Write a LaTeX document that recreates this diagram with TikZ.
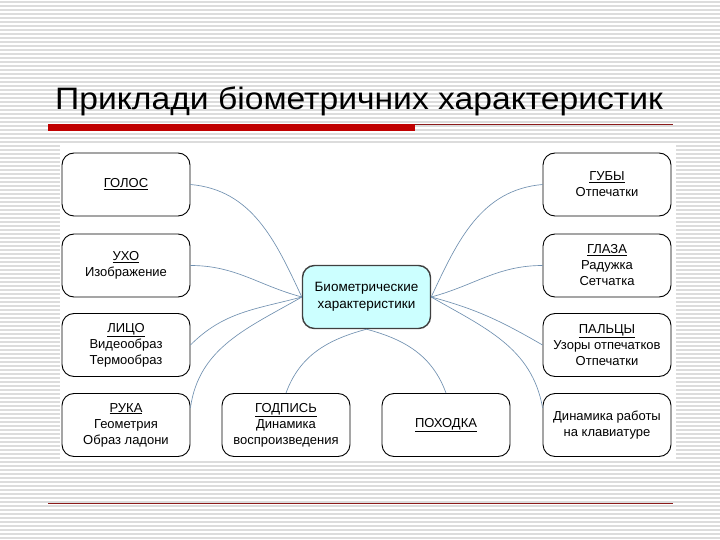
\documentclass[tikz,border=0pt]{standalone}
\usepackage{graphicx}
\usepackage{fontspec}
\setmainfont{Liberation Sans}
\definecolor{slidestripe}{HTML}{DCDCDC}
\definecolor{sliderule}{HTML}{C00000}
\definecolor{slidethin}{HTML}{8B1A1A}
\definecolor{biocyan}{HTML}{CCFFFF}
\definecolor{biolink}{HTML}{7090B0}
\tikzset{
  stripe/.style={draw=slidestripe, line width=1.3bp},
  box/.style   ={draw=black, line width=0.9bp, fill=white, rounded corners=12bp,
                 minimum width=128bp, minimum height=63bp, inner sep=2bp,
                 align=center, font=\fontsize{13bp}{16bp}\selectfont},
  hub/.style   ={box, fill=biocyan, draw=black!75, line width=1.4bp,
                 font=\fontsize{13.5bp}{17bp}\selectfont},
  link/.style  ={draw=biolink, line width=0.65bp},
}
\newcommand{\hd}[1]{\underline{#1}}

\begin{document}
\begin{tikzpicture}[x=1bp, y=-1bp]
  \useasboundingbox (0,0) rectangle (720,540);
  \foreach \y in {2,6,...,538} \draw[stripe] (0,\y) -- (720,\y);
  \fill[white] (60,145) rectangle (676,460);

  % title and rules
  \node[anchor=base west, inner sep=0pt, font=\fontsize{31bp}{36bp}\selectfont]
    (title) at (55,110) {\scalebox{1.085}[1]{Приклади біометричних характеристик}};
  \fill[sliderule] (48,124) rectangle (415,131);
  \draw[slidethin, line width=1bp] (415,124.5) -- (673,124.5);
  \draw[slidethin, line width=1bp] (48,503) -- (673,503);

  % hub
  \node[hub] (bio) at (366.5,297) {Биометрические\\характеристики};

  % left column
  \node[box] (golos) at (126,184.5) {\hd{ГОЛОС}};
  \node[box] (uho)   at (126,265.5) {\hd{УХО}\\Изображение};
  \node[box] (lico)  at (126,345)   {\hd{ЛИЦО}\\Видеообраз\\Термообраз};
  \node[box] (ruka)  at (126,425)   {\hd{РУКА}\\Геометрия\\Образ ладони};

  % bottom row
  \node[box] (podpis)  at (286,425) {\hd{ГОДПИСЬ}\\Динамика\\воспроизведения};
  \node[box] (pohodka) at (446,425) {\hd{ПОХОДКА}};

  % right column
  \node[box] (guby)  at (607,184.5) {\hd{ГУБЫ}\\Отпечатки};
  \node[box] (glaza) at (607,265.5) {\hd{ГЛАЗА}\\Радужка\\Сетчатка};
  \node[box] (palcy) at (607,345)   {\hd{ПАЛЬЦЫ}\\Узоры отпечатков\\Отпечатки};
  \node[box] (din)   at (607,425)   {Динамика работы\\на клавиатуре};

  % links
  \draw[link] (golos.east) to[out=-5, in=115] (bio.west);
  \draw[link] (uho.east) to[out=0, in=165] (bio.west);
  \draw[link] (lico.east) to[out=45, in=-165] (bio.west);
  \draw[link] (ruka.15) to[out=82, in=-150] (bio.west);
  \draw[link] (guby.west) to[out=185, in=65] (bio.east);
  \draw[link] (glaza.west) to[out=180, in=15] (bio.east);
  \draw[link] (palcy.west) to[out=150, in=-15] (bio.east);
  \draw[link] (din.165) to[out=100, in=-30] (bio.east);
  \draw[link] (podpis.north) to[out=70, in=195] (bio.south);
  \draw[link] (pohodka.north) to[out=110, in=-15] (bio.south);
\end{tikzpicture}
\end{document}
